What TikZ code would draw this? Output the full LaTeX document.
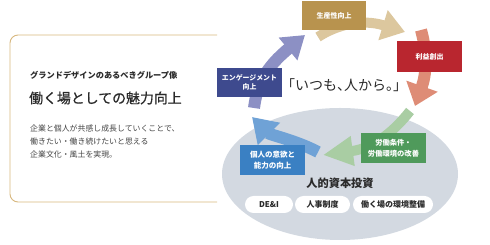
\documentclass[tikz,border=0pt]{standalone}
\usepackage{fontspec}
\setmainfont{Noto Sans CJK JP}
\newfontfamily\jp{Noto Sans CJK JP}
\newfontfamily\jpmed[FakeBold=0.6]{Noto Sans CJK JP}
\usetikzlibrary{arrows.meta,shapes.geometric}
\definecolor{bordercol}{HTML}{D7B77E}
\definecolor{ellcol}{HTML}{D3D9E1}
\definecolor{goldbox}{HTML}{B8934E}
\definecolor{redbox}{HTML}{B9262F}
\definecolor{navybox}{HTML}{3E4A8E}
\definecolor{greenbox}{HTML}{4F9A5B}
\definecolor{bluebox}{HTML}{3A80C3}
\definecolor{purplearr}{HTML}{8C90C4}
\definecolor{tanarr}{HTML}{DCC79E}
\definecolor{salmonarr}{HTML}{DE8C76}
\definecolor{greenarr}{HTML}{A9CDA3}
\definecolor{bluearr}{HTML}{6FA2D6}
\definecolor{txtdark}{HTML}{2A2A2A}
\definecolor{txtbody}{HTML}{444444}
\tikzset{
  cyclebox/.style={inner sep=0pt, text=white, align=center,
    font=\jp\bfseries\fontsize{7}{9.5}\selectfont},
  pill/.style={fill=white, rounded corners=8.5pt, inner sep=0pt,
    minimum height=17pt, text=txtdark, font=\jp\bfseries\fontsize{8}{9}\selectfont},
  bigarrow/.style={line cap=butt},
}
\newcommand{\hL}[1]{\makebox[0.5em][l]{#1}}
\newcommand{\hR}[1]{\makebox[0.5em][r]{#1}}
\begin{document}
\begin{tikzpicture}[x=1pt,y=-1pt]
\useasboundingbox (0,0) rectangle (490,245);
% left panel border
\coordinate (bTR) at (217,35); \coordinate (bTL) at (10,35);
\coordinate (bBL) at (10,202); \coordinate (bBR) at (217,202);
\draw[bordercol, line width=0.9pt, rounded corners=8pt] (bTR) -- (bTL) -- (bBL) -- (bBR);
\node[anchor=west, inner sep=0pt, text=txtdark, font=\jp\bfseries\fontsize{8.2}{10}\selectfont] (sub) at (30,75) {グランドデザインのあるべきグループ像};
\node[anchor=west, inner sep=0pt, text=txtdark, font=\jpmed\fontsize{13.9}{16}\selectfont] (title) at (29,98) {働く場としての魅力向上};
\node[anchor=north west, inner sep=0pt, text=txtbody, align=left, font=\jp\fontsize{7.9}{13}\selectfont] (body) at (30,125) {企業と個人が共感し成長していくことで、\\働きたい・働き続けたいと思える\\企業文化・風土を実現。};
% ellipse
\node[ellipse, fill=ellcol, minimum width=236pt, minimum height=132pt, inner sep=0pt] (ell) at (340,174) {};
% arrows
\coordinate (pA) at (254,108); \coordinate (pB) at (305,35);
\coordinate (tA) at (318,37); \coordinate (tB) at (405,32);
\coordinate (sA) at (421,30); \coordinate (sB) at (415,106);
\coordinate (gA) at (410,111); \coordinate (gB) at (323,155);
\coordinate (bA) at (318,152); \coordinate (bB) at (252,117);
\draw[bigarrow, purplearr, line width=12pt, -{Triangle[width=28pt,length=22pt]}] (pA) .. controls (257,85) and (265,68) .. (pB);
\draw[bigarrow, tanarr, line width=10pt, -{Triangle[width=30pt,length=23pt]}] (tA) .. controls (335,26) and (360,18) .. (tB);
\draw[bigarrow, salmonarr, line width=12pt, -{Triangle[width=32pt,length=21pt]}] (sA) .. controls (428,55) and (426,75) .. (sB);
\draw[bigarrow, greenarr, line width=10pt, -{Triangle[width=28pt,length=30pt]}] (gA) .. controls (395,130) and (375,148) .. (gB);
\draw[bigarrow, bluearr, line width=12pt, -{Triangle[width=30pt,length=24pt]}] (bA) .. controls (295,140) and (270,135) .. (bB);
% boxes
\node[cyclebox, fill=goldbox, minimum width=64pt, minimum height=29pt] (gold) at (334,15.5) {生産性向上};
\node[cyclebox, fill=redbox, minimum width=65pt, minimum height=31pt] (red) at (429.5,56.5) {利益創出};
\node[cyclebox, fill=navybox, minimum width=65pt, minimum height=29pt, font=\jp\bfseries\fontsize{6.9}{9}\selectfont] (navy) at (249.5,82.5) {エンゲージメント\\向上};
\node[cyclebox, fill=greenbox, minimum width=65pt, minimum height=30pt, font=\jp\bfseries\fontsize{7.3}{10.5}\selectfont] (green) at (393.5,148) {労働条件・\\労働環境の改善};
\node[cyclebox, fill=bluebox, minimum width=65pt, minimum height=30pt, font=\jp\bfseries\fontsize{7.5}{10.5}\selectfont] (blue) at (272.5,160) {個人の意欲と\\能力の向上};
% tagline
\node[inner sep=0pt, text=txtdark, font=\jp\fontsize{14}{16}\selectfont] (tag) at (344,85) {\hR{「}いつも\hL{、}人から\hL{。}\hL{」}};
% investment
\node[inner sep=0pt, text=txtdark, font=\jp\bfseries\fontsize{11.2}{13}\selectfont] (inv) at (340,183) {人的資本投資};
\node[pill, minimum width=48pt] (dei) at (269,204.5) {DE\&I};
\node[pill, minimum width=55pt] (hr) at (322.5,204.5) {人事制度};
\node[pill, minimum width=80pt] (env) at (393,204.5) {働く場の環境整備};
\end{tikzpicture}
\end{document}
